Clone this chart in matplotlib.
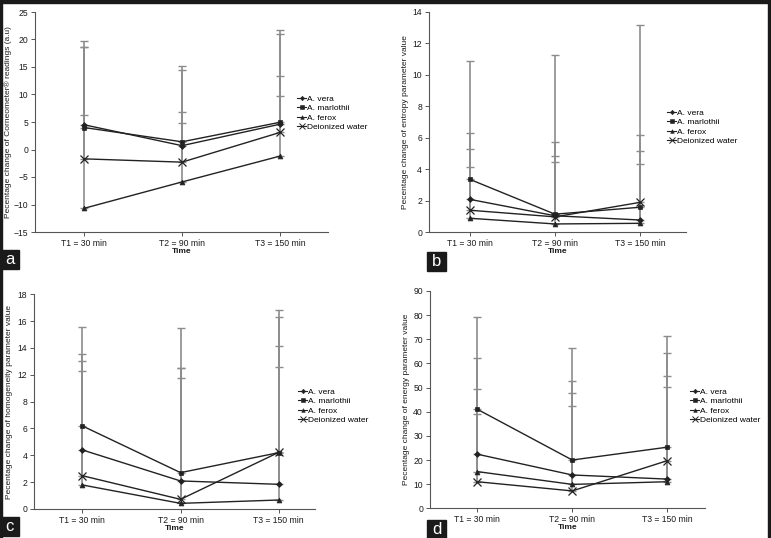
import matplotlib
matplotlib.use("Agg")
import matplotlib.pyplot as plt
from matplotlib.lines import Line2D
from matplotlib.patches import Rectangle

plt.rcParams["font.family"] = ["Liberation Sans", "DejaVu Sans"]

W, H = 771, 538

times = ["T1 = 30 min", "T2 = 90 min", "T3 = 150 min"]
series = ["A. vera", "A. marlothii", "A. ferox", "Deionized water"]

# panel a: Corneometer
vera_a = [4.5, 0.7, 4.6]
marl_a = [4.0, 1.4, 4.95]
ferox_a = [-10.7, -5.9, -1.2]
water_a = [-1.7, -2.3, 3.1]
vera_a_top = [18.7, 14.4, 21.0]
marl_a_top = [19.7, 15.1, 21.8]
ferox_a_top = [6.2, 4.8, 9.8]
water_a_top = [18.7, 6.9, 13.3]

# panel b: entropy
vera_b = [2.09, 1.05, 0.78]
marl_b = [3.36, 1.15, 1.59]
ferox_b = [0.89, 0.53, 0.57]
water_b = [1.40, 0.98, 1.90]
vera_b_top = [5.29, 4.84, 4.35]
marl_b_top = [10.89, 11.23, 13.15]
ferox_b_top = [4.14, 4.48, 5.18]
water_b_top = [6.32, 5.75, 6.17]

# panel c: homogeneity (axis labels skip "10" as in the original)
vera_c = [4.40, 2.09, 1.84]
marl_c = [6.19, 2.71, 4.20]
ferox_c = [1.79, 0.42, 0.67]
water_c = [2.48, 0.72, 4.22]
vera_c_top = [11.06, 10.48, 12.12]
marl_c_top = [13.59, 13.52, 14.81]
ferox_c_top = [10.31, 9.79, 10.58]
water_c_top = [11.55, 10.53, 14.31]
c_ticks = [0, 2, 4, 6, 8, 10, 12, 14, 16]
c_ticklabels = ["0", "2", "4", "6", "8", "12", "14", "16", "18"]

# panel d: energy
vera_d = [22.4, 13.8, 12.1]
marl_d = [41.0, 20.0, 25.3]
ferox_d = [15.2, 9.9, 11.0]
water_d = [11.0, 7.2, 19.7]
vera_d_top = [49.3, 47.6, 54.9]
marl_d_top = [79.4, 66.5, 71.5]
ferox_d_top = [38.9, 42.4, 50.1]
water_d_top = [62.1, 52.6, 64.2]

markers = ["D", "s", "^", "x"]
msizes = [3, 3.5, 3.5, 6]

fig = plt.figure(figsize=(W / 100, H / 100), dpi=100)
fig.patch.set_facecolor("white")


def make_axes(left, right, top, bottom):
    return fig.add_axes([left / W, 1 - bottom / H, (right - left) / W, (bottom - top) / H])


def draw_panel(ax, means, tops, xlim, ylim, yticks, ylabel, ylabel_x, left_px, width_px,
               leg_x, leg_y, yticklabels=None):
    x = [0, 1, 2]
    for m, t in zip(means, tops):
        up = [tt - mm for tt, mm in zip(t, m)]
        ax.errorbar(x, m, yerr=[[0, 0, 0], up], fmt="none", ecolor="#8c8c8c",
                    elinewidth=1.2, capsize=2.6, capthick=1.0, zorder=1)
    for m, mk, ms in zip(means, markers, msizes):
        ax.plot(x, m, color="#222222", lw=1.0, marker=mk, ms=ms,
                mew=0.9 if mk == "x" else 0.5, zorder=3)
    ax.set_xlim(*xlim)
    ax.set_ylim(*ylim)
    ax.set_xticks(x)
    ax.set_xticklabels(times)
    ax.set_yticks(yticks)
    if yticklabels is not None:
        ax.set_yticklabels(yticklabels)
    for s in ["top", "right"]:
        ax.spines[s].set_visible(False)
    for s in ["left", "bottom"]:
        ax.spines[s].set_color("#555555")
        ax.spines[s].set_linewidth(0.8)
    ax.tick_params(labelsize=6.2, length=3, width=0.7, color="#555555", pad=2,
                   labelcolor="#1a1a1a")
    ax.set_xlabel("Time", fontsize=6, fontweight="bold", labelpad=0, color="#1a1a1a")
    ax.set_ylabel(ylabel, fontsize=6, color="#1a1a1a")
    ax.yaxis.set_label_coords(-(left_px - ylabel_x) / width_px, 0.5)
    handles = [Line2D([], [], color="#222222", lw=0.8, marker=mk, ms=ms * 0.75,
                      mew=0.7 if mk == "x" else 0.4) for mk, ms in zip(markers, msizes)]
    fig.legend(handles, series, loc="center left",
               bbox_to_anchor=(leg_x / W, 1 - leg_y / H), frameon=False, fontsize=6.0,
               handlelength=1.1, handletextpad=0.15, labelspacing=0.18, borderpad=0,
               borderaxespad=0)


ax_a = make_axes(35, 328, 12, 232)
draw_panel(ax_a, [vera_a, marl_a, ferox_a, water_a],
           [vera_a_top, marl_a_top, ferox_a_top, water_a_top],
           (-0.5, 2.49), (-15, 25), list(range(-15, 26, 5)),
           "Pecentage change of Corneometer® readings (a.u)", 12, 35, 293, 297, 113)

ax_b = make_axes(429, 686, 11.7, 232.3)
draw_panel(ax_b, [vera_b, marl_b, ferox_b, water_b],
           [vera_b_top, marl_b_top, ferox_b_top, water_b_top],
           (-0.48, 2.54), (0, 14), list(range(0, 15, 2)),
           "Pecentage change of entropy parameter value", 409, 429, 257, 667, 127)

ax_c = make_axes(34.3, 315, 294.3, 509)
draw_panel(ax_c, [vera_c, marl_c, ferox_c, water_c],
           [vera_c_top, marl_c_top, ferox_c_top, water_c_top],
           (-0.49, 2.37), (0, 16), c_ticks,
           "Pecentage change of homogeneity parameter value", 13, 34.3, 280.7, 298, 406,
           yticklabels=c_ticklabels)

ax_d = make_axes(430, 705, 291, 508.3)
draw_panel(ax_d, [vera_d, marl_d, ferox_d, water_d],
           [vera_d_top, marl_d_top, ferox_d_top, water_d_top],
           (-0.5, 2.4), (0, 90), list(range(0, 91, 10)),
           "Pecentage change of energy parameter value", 410, 430, 275, 690, 406)

# panel letters
for letter, x0, y0 in [("a", 0, 250), ("b", 427, 252), ("c", 0, 517), ("d", 427, 520)]:
    fig.patches.append(Rectangle((x0 / W, 1 - (y0 + 19) / H), 19 / W, 19 / H,
                                 transform=fig.transFigure, color="#1a1a1a", zorder=5))
    fig.text((x0 + 9.5) / W, 1 - (y0 + 9.5) / H, letter, color="white", fontsize=12,
             ha="center", va="center", zorder=6)

# outer frame
for rx, ry, rw, rh in [(0, 0, W, 3), (0, 0, 2, H), (W - 3, 0, 3, H)]:
    fig.patches.append(Rectangle((rx / W, 1 - (ry + rh) / H), rw / W, rh / H,
                                 transform=fig.transFigure, color="#1a1a1a", zorder=5))

fig.savefig("out.png", dpi=100)
